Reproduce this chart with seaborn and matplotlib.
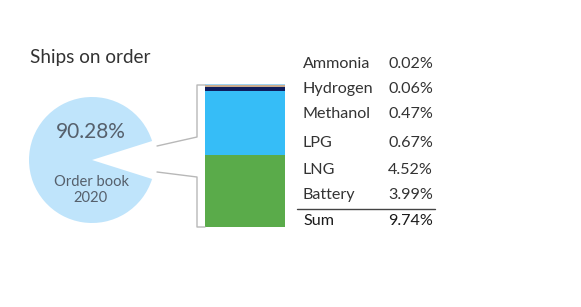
import matplotlib
matplotlib.use("Agg")
import matplotlib.pyplot as plt
import seaborn as sns

# ---- data ----
fuels = ["Ammonia", "Hydrogen", "Methanol", "LPG", "LNG", "Battery"]
fuel_pct = [0.02, 0.06, 0.47, 0.67, 4.52, 3.99]
fuel_labels = ["0.02%", "0.06%", "0.47%", "0.67%", "4.52%", "3.99%"]
sum_label = "9.74%"
pie_values = [9.74, 90.28]          # alternative-fuel share, rest of order book
pie_label = "90.28%"
# segment shares of the stacked bar as drawn in the picture (bottom -> top)
bar_fuels = ["Battery", "LNG", "LPG", "Methanol", "Hydrogen", "Ammonia"]
bar_shares = [50.2, 44.8, 2.6, 1.4, 0.7, 0.3]
bar_colors = ["#5aab4a", "#36bdf7", "#0f1d5e", "#c9ab8c", "#9fd3f2", "#8aa8c8"]

sns.set_theme(style="white")
plt.rcParams["font.family"] = ["Lato", "DejaVu Sans"]

W, H = 581, 307
fig = plt.figure(figsize=(W / 100, H / 100), dpi=100)
fig.patch.set_facecolor("white")

def px_box(x0, y0, x1, y1):
    return [x0 / W, 1 - y1 / H, (x1 - x0) / W, (y1 - y0) / H]

# ---- pie ----
axp = fig.add_axes(px_box(29, 97, 155, 223))
gap_deg = pie_values[0] / sum(pie_values) * 360
axp.pie(pie_values, colors=["white", "#bfe4fb"], startangle=-gap_deg / 2,
        radius=1, wedgeprops=dict(linewidth=0))
axp.set_xlim(-1, 1); axp.set_ylim(-1, 1); axp.set_aspect("equal")
axp.axis("off")

# ---- stacked bar (seaborn, drawn as overlapping cumulative bars) ----
axb = fig.add_axes(px_box(205, 84, 285, 227))
cum = []
t = 0
for v in bar_shares:
    t += v
    cum.append(t)
for name, c, col in reversed(list(zip(bar_fuels, cum, bar_colors))):
    sns.barplot(x=[0], y=[c], color=col, width=1.0, ax=axb,
                saturation=1, linewidth=0)
axb.set_xlim(-0.5, 0.5)
axb.set_ylim(0, cum[-1])
axb.axis("off")

# ---- overlay for connectors and text ----
ov = fig.add_axes([0, 0, 1, 1])
ov.set_xlim(0, W); ov.set_ylim(H, 0); ov.axis("off")
lc = "#b8b8b8"
ov.plot([157, 197, 197, 205], [146, 137, 85, 85], color=lc, lw=1)
ov.plot([157, 197, 197, 205], [172, 177, 227, 227], color=lc, lw=1)

tc = "#333333"
ov.text(30, 58, "Ships on order", fontsize=13.6, color=tc, va="center", ha="left")
ov.text(91, 132, pie_label, fontsize=15, color="#56606c", va="center", ha="center")
ov.text(91, 182, "Order book", fontsize=10.6, color="#56606c", va="center", ha="center")
ov.text(91, 198, "2020", fontsize=10.6, color="#56606c", va="center", ha="center")

fs = 11.6
rows_y = [64, 89, 114, 143, 170, 195]
for y, name, lab in zip(rows_y, fuels, fuel_labels):
    ov.text(303, y, name, fontsize=fs, color=tc, va="center", ha="left")
    ov.text(433, y, lab, fontsize=fs, color=tc, va="center", ha="right")
ov.plot([297, 435], [209, 209], color="#444444", lw=1)
ov.text(303, 221, "Sum", fontsize=fs, color="#1a1a1a", va="center", ha="left")
ov.text(433, 221, sum_label, fontsize=fs, color="#1a1a1a", va="center", ha="right")

fig.savefig("out.png", dpi=100, facecolor="white")
